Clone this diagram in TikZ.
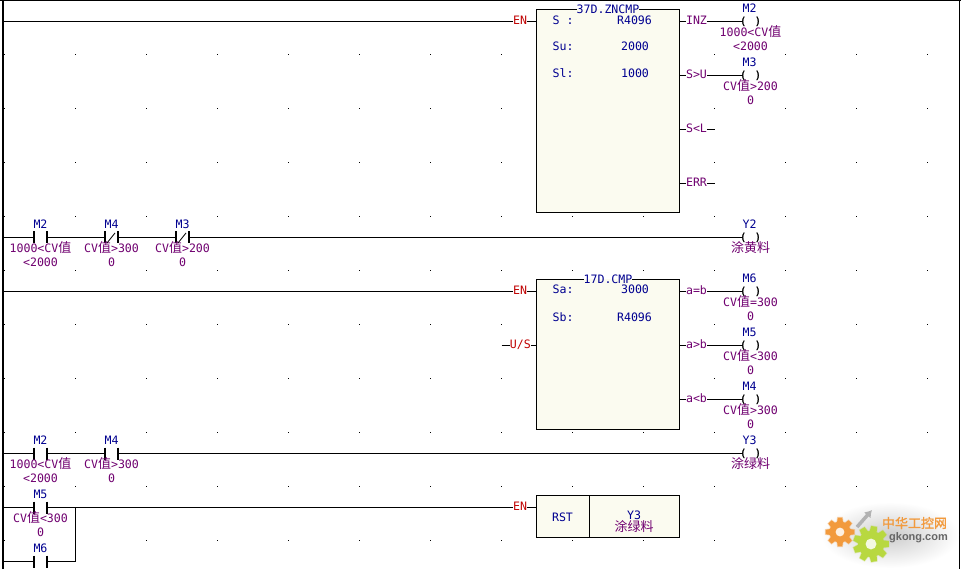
\documentclass[tikz,border=0pt]{standalone}
\usepackage{fontspec}
\usetikzlibrary{arrows.meta}
\setmainfont{DejaVu Sans Mono}
\newfontfamily\zhfont{Noto Sans CJK SC}
\newfontfamily\zhbold[FakeBold=1.5]{Noto Sans CJK SC}
\newfontfamily\wmfont{Liberation Sans}
\newfontfamily\coilfont[FakeBold=2]{DejaVu Sans Mono}
\newcommand\zh[1]{{\zhfont\fontsize{13}{14}\selectfont #1}}
\definecolor{plcblue}{HTML}{000090}
\definecolor{plcpurple}{HTML}{700070}
\definecolor{plcred}{HTML}{C00000}
\definecolor{boxfill}{HTML}{FBFBF0}
\definecolor{wmorange}{HTML}{F29A3D}
\definecolor{wmgreen}{HTML}{B8D840}
\tikzset{
  x=1pt,y=1pt,
  plcfont/.style={font=\fontsize{11.6}{14}\selectfont},
  wire/.style={line width=1pt,black},
  contactbox/.style={minimum width=12.6pt,minimum height=12pt,inner sep=0pt,outer sep=0pt},
  contactbar/.style={line width=2pt,black},
  coilnode/.style={font=\coilfont\fontsize{10.5}{11}\selectfont,inner sep=0pt,outer sep=0pt,text height=7.3pt,text depth=1pt,black},
  tagtext/.style={plcfont,inner sep=0pt,plcblue,text height=8pt,text depth=1pt},
  cmttext/.style={plcfont,inner sep=0pt,plcpurple,align=center,anchor=north},
  pintext/.style={plcfont,inner sep=0pt,outer sep=0pt,plcpurple,text height=8pt,text depth=2pt},
  enpin/.style={pintext,plcred},
  fnbox/.style={draw=black,line width=1pt,fill=boxfill,inner sep=0pt,outer sep=0pt,anchor=north west},
  fntext/.style={plcfont,inner sep=0pt,plcblue,text height=8pt,text depth=1pt},
  gapline/.style={line width=1.6pt,boxfill},
}
% contact: name, x, y, tag, comment
\newcommand\contact[5]{%
  \node[contactbox] (#1) at (#2,#3) {};
  \draw[contactbar] (#1.north west) -- (#1.south west);
  \draw[contactbar] (#1.north east) -- (#1.south east);
  \node[tagtext] (#1tag) at (#2,#3+12.75) {#4};
  \node[cmttext] (#1cmt) at (#2,#3-4) {\rule{0pt}{11pt}#5};
}
% coil: name, y, tag, comment
\newcommand\coil[4]{%
  \node[coilnode] (#1) at (750.5,#2) {(\hspace{8.5pt})};
  \node[tagtext] (#1tag) at (749.5,#2+12.75) {#3};
  \node[cmttext] (#1cmt) at (750.5,#2-4) {\rule{0pt}{11pt}#4};
}
\newcommand\gearshape[6]{%
  \fill[#6,draw=#6,draw opacity=.35,line width=1.4pt] ({#1+#3*cos(9)},{#2+#3*sin(9)})
    \foreach \k in {1,...,#5} { -- ({#1+#3*cos((\k-1)*360/#5+9)},{#2+#3*sin((\k-1)*360/#5+9)})
       -- ({#1+#4*cos((\k-1)*360/#5+16)},{#2+#4*sin((\k-1)*360/#5+16)})
       -- ({#1+#4*cos(\k*360/#5-16)},{#2+#4*sin(\k*360/#5-16)})
       -- ({#1+#3*cos(\k*360/#5-9)},{#2+#3*sin(\k*360/#5-9)}) } -- cycle;
  \fill[white!85!#6] (#1,#2) circle [radius=#4*0.42];
}
\begin{document}
\begin{tikzpicture}
\useasboundingbox (0,0) rectangle (961,-569);
\fill[white] (0,0) rectangle (961,-569);
% grid dots
\foreach \gx in {4,75,146,217,288,359,430,501,572,643,714,785,856,927}
  \foreach \gy in {54,108,162,216,270,324,378,432,486,540}
    \fill[black] (\gx,-\gy) rectangle (\gx+1,-\gy-1);
% frame
\draw[line width=1pt,black] (0,-.5) -- (961,-.5);
\draw[line width=2.4pt,black] (3,0) -- (3,-569);
\draw[line width=1.4pt,black] (959.5,0) -- (959.5,-569);
% rail coordinates
\coordinate (rA) at (4,-21.5);
\coordinate (rB) at (4,-237.5);
\coordinate (rC) at (4,-291.5);
\coordinate (rD) at (4,-453.5);
\coordinate (rE) at (4,-507.5);
\coordinate (rF) at (4,-561.5);
\coordinate (us0) at (501.7,-345.5);
\coordinate (jn) at (75.5,-507.5);

% ---------- rung 1: ZNCMP
\node[fnbox,minimum width=143pt,minimum height=203pt] (zn) at (536.5,-9.5) {};
\draw[gapline] ([xshift=-31pt]zn.north) -- ([xshift=31pt]zn.north);
\node[fntext] (zntitle) at (608,-10) {37D.ZNCMP};
\node[enpin] (znen) at (520,-21.5) {EN};
\draw[wire] (rA) -- (znen.west);
\draw[wire] (znen.east) -- (zn.west |- znen.east);
\node[fntext,anchor=west] (zns) at (552.5,-20.75) {S :};
\node[fntext] (znsv) at (634.5,-20.75) {R4096};
\node[fntext,anchor=west] (znsu) at (552.5,-47.5) {Su:};
\node[fntext] (znsuv) at (635,-47.5) {2000};
\node[fntext,anchor=west] (znsl) at (552.5,-74) {Sl:};
\node[fntext] (znslv) at (635,-74) {1000};
\node[pintext] (inz) at (696.5,-21.5) {INZ};
\node[pintext] (sgu) at (696.5,-75.5) {S>U};
\node[pintext] (slt) at (696.5,-129.5) {S<L};
\node[pintext] (err) at (696.5,-183.5) {ERR};
\coil{m2c}{-21.5}{M2}{1000<CV\zh{值}\\<2000}
\coil{m3c}{-75.5}{M3}{CV\zh{值}>200\\0}
\foreach \p in {inz,sgu,slt,err} \draw[wire] (zn.east |- \p.west) -- (\p.west);
\coordinate (sltend) at (715,-129.5);
\coordinate (errend) at (715,-183.5);
\draw[wire] (inz.east) -- ([xshift=2pt]m2c.west);
\draw[wire] (sgu.east) -- ([xshift=2pt]m3c.west);
\draw[wire] (slt.east) -- (sltend);
\draw[wire] (err.east) -- (errend);

% ---------- rung 2
\contact{m2a}{40.5}{-237.5}{M2}{1000<CV\zh{值}\\<2000}
\contact{m4a}{111.5}{-237.5}{M4}{CV\zh{值}>300\\0}
\contact{m3a}{182.5}{-237.5}{M3}{CV\zh{值}>200\\0}
\draw[line width=.8pt] (107,-243) -- (115,-233);
\draw[line width=.8pt] (178,-243) -- (186,-233);
\coil{y2c}{-237.5}{Y2}{\zh{涂黄料}}
\draw[wire] (rB) -- (m2a.west);
\draw[wire] (m2a.east) -- (m4a.west);
\draw[wire] (m4a.east) -- (m3a.west);
\draw[wire] (m3a.east) -- ([xshift=2pt]y2c.west);

% ---------- rung 3: CMP
\node[fnbox,minimum width=143pt,minimum height=150pt] (cm) at (536.5,-279.5) {};
\draw[gapline] ([xshift=-24pt]cm.north) -- ([xshift=24pt]cm.north);
\node[fntext] (cmtitle) at (608,-280) {17D.CMP};
\node[enpin] (cmen) at (520,-291.5) {EN};
\node[enpin] (cmus) at (520.4,-345.5) {U/S};
\draw[wire] (rC) -- (cmen.west);
\draw[wire] (cmen.east) -- (cm.west |- cmen.east);
\draw[wire] (us0) -- (cmus.west);
\draw[wire] (cmus.east) -- (cm.west |- cmus.east);
\node[fntext,anchor=west] (cmsa) at (552.5,-290) {Sa:};
\node[fntext] (cmsav) at (635,-290) {3000};
\node[fntext,anchor=west] (cmsb) at (552.5,-317.5) {Sb:};
\node[fntext] (cmsbv) at (634.5,-317.5) {R4096};
\node[pintext] (aeb) at (696.5,-291.5) {a=b};
\node[pintext] (agb) at (696.5,-345.5) {a>b};
\node[pintext] (alb) at (696.5,-399.5) {a<b};
\coil{m6c}{-291.5}{M6}{CV\zh{值}=300\\0}
\coil{m5c}{-345.5}{M5}{CV\zh{值}<300\\0}
\coil{m4c}{-399.5}{M4}{CV\zh{值}>300\\0}
\foreach \p in {aeb,agb,alb} \draw[wire] (cm.east |- \p.west) -- (\p.west);
\draw[wire] (aeb.east) -- ([xshift=2pt]m6c.west);
\draw[wire] (agb.east) -- ([xshift=2pt]m5c.west);
\draw[wire] (alb.east) -- ([xshift=2pt]m4c.west);

% ---------- rung 4
\contact{m2b}{40.5}{-453.5}{M2}{1000<CV\zh{值}\\<2000}
\contact{m4b}{111.5}{-453.5}{M4}{CV\zh{值}>300\\0}
\coil{y3c}{-453.5}{Y3}{\zh{涂绿料}}
\draw[wire] (rD) -- (m2b.west);
\draw[wire] (m2b.east) -- (m4b.west);
\draw[wire] (m4b.east) -- ([xshift=2pt]y3c.west);

% ---------- rung 5: RST
\node[fnbox,minimum width=143pt,minimum height=42pt] (rs) at (536.5,-495.5) {};
\draw[wire] (589.5,-495.5) -- (589.5,-537.5);
\node[enpin] (rsen) at (520,-507.5) {EN};
\node[fntext] (rst) at (562.5,-517.5) {RST};
\node[fntext] (rsy) at (634,-515.5) {Y3};
\node[inner sep=0pt,plcpurple,text height=8pt,text depth=1pt] (rsc) at (634,-528) {\zh{涂绿料}};
\contact{m5a}{40.5}{-507.5}{M5}{CV\zh{值}<300\\0}
\node[contactbox] (m6a) at (40.5,-561.5) {};
\draw[contactbar] (m6a.north west) -- (m6a.south west);
\draw[contactbar] (m6a.north east) -- (m6a.south east);
\node[tagtext] (m6atag) at (40.5,-548.75) {M6};
\draw[wire] (rE) -- (m5a.west);
\draw[wire] (m5a.east) -- (jn);
\draw[wire] (jn) -- (rsen.west);
\draw[wire] (rsen.east) -- (rs.west |- rsen.east);
\draw[wire] (rF) -- (m6a.west);
\draw[wire] (m6a.east) -- (jn |- m6a.east) -- (jn);

% ---------- watermark
\shade[inner color=black!20,outer color=white] (890,-535) ellipse [x radius=69pt,y radius=33pt];
\draw[line width=3.5pt,black!30,-{Latex[length=7pt,width=9pt]}] (857,-527) -- (872,-510);
\gearshape{840}{-532}{14.5}{10.5}{8}{wmorange}
\gearshape{871}{-544}{18}{13}{9}{wmgreen}
\node[inner sep=0pt,text=wmorange] (wmzh) at (914.5,-523) {\zhbold\fontsize{13}{14}\selectfont 中华工控网};
\node[inner sep=0pt,text=black!60] (wmen) at (918.5,-538) {\wmfont\bfseries\fontsize{11}{12}\selectfont gkong.com};
\end{tikzpicture}
\end{document}
